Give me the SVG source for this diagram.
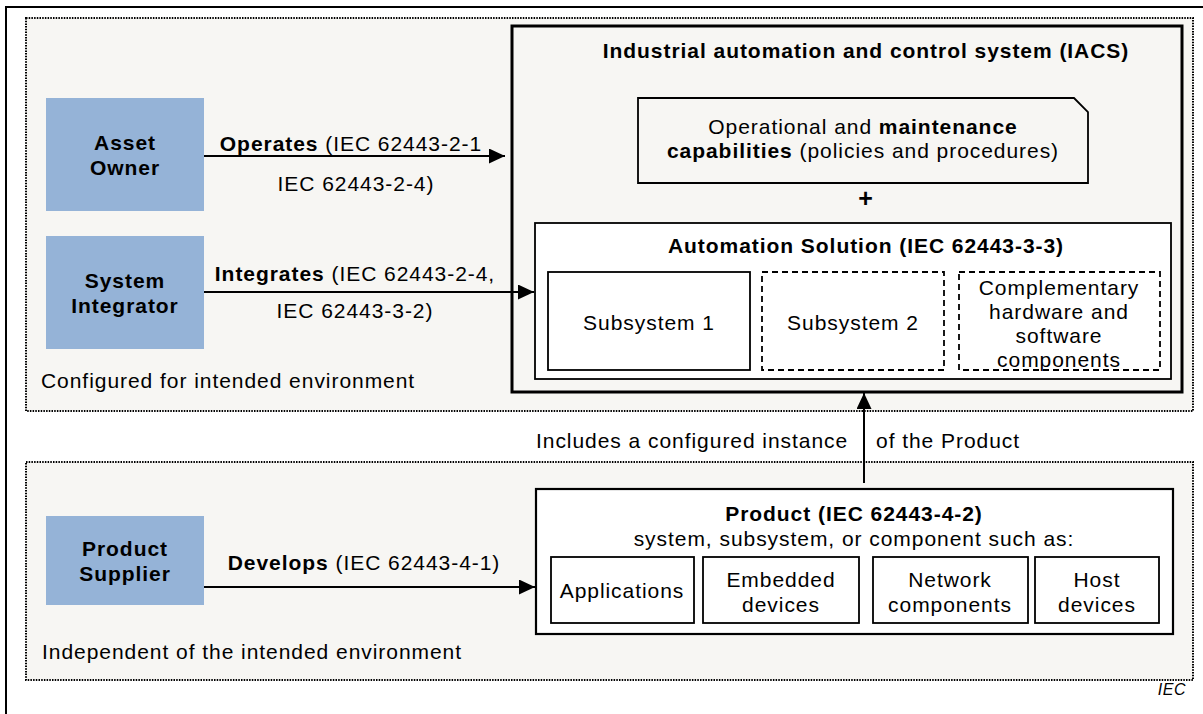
<svg xmlns="http://www.w3.org/2000/svg" width="1203" height="714" viewBox="0 0 1203 714">
<defs>
<style>
text{font-family:"Liberation Sans",Arial,sans-serif;font-size:21px;fill:#000;letter-spacing:0.95px}
.b{font-weight:bold}
.c{text-anchor:middle}
.zone{fill:#f7f6f3;stroke:#000;stroke-width:2;stroke-dasharray:1.5 1.2}
.actor{fill:#95b3d7;stroke:none}
.box{fill:#fff;stroke:#000;stroke-width:1.8}
.dash{fill:#fff;stroke:#000;stroke-width:1.8;stroke-dasharray:6 4}
.conn{stroke:#000;stroke-width:2;fill:none}
</style>
<marker id="ah" markerUnits="userSpaceOnUse" markerWidth="16" markerHeight="15" refX="16" refY="7.5" orient="auto">
<path d="M0,0 L16,7.5 L0,15 Z" fill="#000"/>
</marker>
</defs>
<rect x="0" y="0" width="1203" height="714" fill="#fff"/>
<path d="M6,720 V7 H1210" fill="none" stroke="#000" stroke-width="2"/>

<g id="zone-configured">
<rect class="zone" x="26" y="18" width="1167" height="393"/>
<text x="41" y="388">Configured for intended environment</text>
</g>
<g id="zone-independent">
<rect class="zone" x="26" y="462" width="1167" height="218"/>
<text x="42" y="659">Independent of the intended environment</text>
</g>

<g id="asset-owner">
<rect class="actor" x="46" y="98" width="158" height="113"/>
<text class="b c" x="125" y="149.5">Asset</text>
<text class="b c" x="125" y="174.5">Owner</text>
</g>
<g id="system-integrator">
<rect class="actor" x="46" y="236" width="158" height="113"/>
<text class="b c" x="125" y="287.5">System</text>
<text class="b c" x="125" y="312.5">Integrator</text>
</g>
<g id="product-supplier">
<rect class="actor" x="46" y="516" width="158" height="89"/>
<text class="b c" x="125" y="555.5">Product</text>
<text class="b c" x="125" y="580.5">Supplier</text>
</g>

<g id="iacs">
<rect x="512" y="26" width="670" height="366" fill="#f7f6f3" stroke="#000" stroke-width="3"/>
<text class="b c" x="866" y="57.5">Industrial automation and control system (IACS)</text>
</g>
<g id="operational">
<path d="M638,98 H1074 L1088,112 V183 H638 Z" fill="#f7f6f3" stroke="#000" stroke-width="1.8"/>
<text class="c" x="863" y="133.5">Operational and <tspan class="b">maintenance</tspan></text>
<text class="c" x="863" y="157.5"><tspan class="b">capabilities</tspan> (policies and procedures)</text>
</g>
<g id="plus">
<text class="b c" x="866" y="207" style="font-size:25px">+</text>
</g>
<g id="automation-solution">
<rect class="box" x="535" y="223" width="636" height="156"/>
<text class="b c" x="866" y="252.5">Automation Solution (IEC 62443-3-3)</text>
</g>
<g id="subsystem-1">
<rect class="box" x="548" y="272" width="202" height="98"/>
<text class="c" x="649" y="329.5">Subsystem 1</text>
</g>
<g id="subsystem-2">
<rect class="dash" x="762" y="272" width="182" height="98"/>
<text class="c" x="853" y="329.5">Subsystem 2</text>
</g>
<g id="complementary">
<rect class="dash" x="959" y="272" width="201" height="98"/>
<text class="c" x="1059" y="294.5">Complementary</text>
<text class="c" x="1059" y="318.5">hardware and</text>
<text class="c" x="1059" y="342.5">software</text>
<text class="c" x="1059" y="366.5">components</text>
</g>

<g id="product">
<rect x="536" y="489" width="637" height="145" fill="#fff" stroke="#000" stroke-width="2.2"/>
<text class="b c" x="854" y="520.5">Product (IEC 62443-4-2)</text>
<text class="c" x="854" y="546">system, subsystem, or component such as:</text>
</g>
<g id="applications">
<rect class="box" x="551" y="557" width="143" height="66"/>
<text class="c" x="622" y="597.5">Applications</text>
</g>
<g id="embedded-devices">
<rect class="box" x="703" y="557" width="156" height="66"/>
<text class="c" x="781" y="586.5">Embedded</text>
<text class="c" x="781" y="611.5">devices</text>
</g>
<g id="network-components">
<rect class="box" x="873" y="557" width="155" height="66"/>
<text class="c" x="950" y="586.5">Network</text>
<text class="c" x="950" y="611.5">components</text>
</g>
<g id="host-devices">
<rect class="box" x="1035" y="557" width="124" height="66"/>
<text class="c" x="1097" y="586.5">Host</text>
<text class="c" x="1097" y="611.5">devices</text>
</g>

<g id="connectors">
<line class="conn" x1="204" y1="156" x2="505" y2="156" marker-end="url(#ah)"/>
<text class="c" x="351" y="150.5"><tspan class="b">Operates</tspan> (IEC 62443-2-1</text>
<text class="c" x="356" y="190.5">IEC 62443-2-4)</text>
<line class="conn" x1="204" y1="292" x2="534" y2="292" marker-end="url(#ah)"/>
<text class="c" x="355" y="280.5"><tspan class="b">Integrates</tspan> (IEC 62443-2-4,</text>
<text class="c" x="355" y="317.5">IEC 62443-3-2)</text>
<line class="conn" x1="204" y1="587" x2="535" y2="587" marker-end="url(#ah)"/>
<text class="c" x="364" y="570"><tspan class="b">Develops</tspan> (IEC 62443-4-1)</text>
<line class="conn" x1="864" y1="483" x2="864" y2="393" marker-end="url(#ah)"/>
<text x="536" y="448">Includes a configured instance</text>
<text x="876" y="448">of the Product</text>
</g>

<text x="1186" y="695" text-anchor="end" style="font-size:16px;font-style:italic;letter-spacing:0.5px">IEC</text>
</svg>
